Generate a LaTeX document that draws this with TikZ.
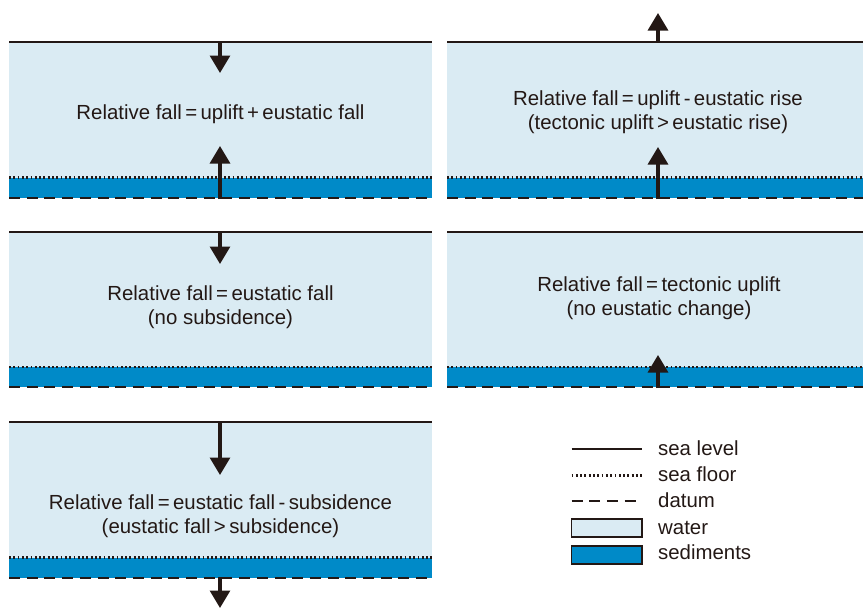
\documentclass[tikz,border=0pt]{standalone}
\usepackage{fontspec}
\setmainfont{Liberation Sans}
\usetikzlibrary{arrows.meta}
\definecolor{ink}{RGB}{35,24,21}
\definecolor{water}{RGB}{218,235,243}
\definecolor{sediment}{RGB}{0,138,200}

\begin{document}
\begin{tikzpicture}[x=1pt, y=-1pt,
	sealevel/.style={ink, line width=2pt},
	seafloor/.style={ink, line width=2.2pt, dash pattern=on 1.8pt off 2.5pt},
	datum/.style={ink, line width=2pt, dash pattern=on 11pt off 6.7pt},
	move/.style={ink, line width=3.2pt, -{Triangle[width=20pt, length=17.5pt]}},
	eqtext/.style={ink, font=\fontsize{20.4}{24}\selectfont, anchor=base, inner sep=0pt},
	keytext/.style={ink, font=\fontsize{20.4}{24}\selectfont, anchor=base west, inner sep=0pt},
	keybox/.style={draw=ink, line width=1.5pt}]
	\useasboundingbox (0, 0) rectangle (863, 608);
	% panels: sea level, sea floor, datum
	\foreach \xa/\xb/\ys/\yf/\yd in {9/432/42/177.5/198.3, 447/863/42/177.5/198.3, 9/432/232/367/387.3, 447/863/232/367/387.3, 9/432/422/557.5/578}{
		\fill[water] (\xa, \ys) rectangle (\xb, \yf);
		\fill[sediment] (\xa, \yf) rectangle (\xb, \yd);
		\draw[sealevel] (\xa, \ys) -- (\xb, \ys);
		\draw[seafloor] (\xa, \yf) -- (\xb, \yf);
		\draw[datum] (\xa, \yd) -- (\xb, \yd);
	}
	% movements
	\coordinate (sl1) at (220, 42);  \coordinate (sl1t) at (220, 73);
	\coordinate (dt1) at (220, 199); \coordinate (dt1t) at (220, 146);
	\coordinate (sl2) at (658, 42);  \coordinate (sl2t) at (658, 13);
	\coordinate (dt2) at (658, 199); \coordinate (dt2t) at (658, 147);
	\coordinate (sl3) at (220, 232); \coordinate (sl3t) at (220, 264);
	\coordinate (dt4) at (658, 388); \coordinate (dt4t) at (658, 355);
	\coordinate (sl5) at (220, 422); \coordinate (sl5t) at (220, 475);
	\coordinate (dt5) at (220, 577); \coordinate (dt5t) at (220, 608);
	\draw[move] (sl1) -- (sl1t);
	\draw[move] (dt1) -- (dt1t);
	\draw[move] (sl2) -- (sl2t);
	\draw[move] (dt2) -- (dt2t);
	\draw[move] (sl3) -- (sl3t);
	\draw[move] (dt4) -- (dt4t);
	\draw[move] (sl5) -- (sl5t);
	\draw[move] (dt5) -- (dt5t);
	% texts
	\node[eqtext] (eq1) at (220.5, 119.3) {Relative fall\,=\,uplift\,+\,eustatic fall};
	\node[eqtext] (eq2) at (658, 105) {Relative fall\,=\,uplift\,-\,eustatic rise};
	\node[eqtext] (note2) at (658, 129.5) {(tectonic uplift\,>\,eustatic rise)};
	\node[eqtext] (eq3) at (220.5, 300) {Relative fall\,=\,eustatic fall};
	\node[eqtext] (note3) at (220.5, 324) {(no subsidence)};
	\node[eqtext] (eq4) at (659, 291.7) {Relative fall\,=\,tectonic uplift};
	\node[eqtext] (note4) at (659, 315.5) {(no eustatic change)};
	\node[eqtext] (eq5) at (220.5, 509.3) {Relative fall\,=\,eustatic fall\,-\,subsidence};
	\node[eqtext] (note5) at (220.5, 533.3) {(eustatic fall\,>\,subsidence)};
	% legend
	\draw[sealevel] (571.5, 449) -- (642, 449);
	\draw[seafloor] (571.5, 475.5) -- (642, 475.5);
	\draw[datum] (571.5, 501) -- (642, 501);
	\filldraw[keybox, fill=water] (571.5, 519) rectangle (642, 537);
	\filldraw[keybox, fill=sediment] (571.5, 546) rectangle (642, 564);
	\node[keytext] (k1) at (658, 455) {sea level};
	\node[keytext] (k2) at (658, 481) {sea floor};
	\node[keytext] (k3) at (658, 507) {datum};
	\node[keytext] (k4) at (658, 534) {water};
	\node[keytext] (k5) at (658, 559) {sediments};
\end{tikzpicture}
\end{document}
